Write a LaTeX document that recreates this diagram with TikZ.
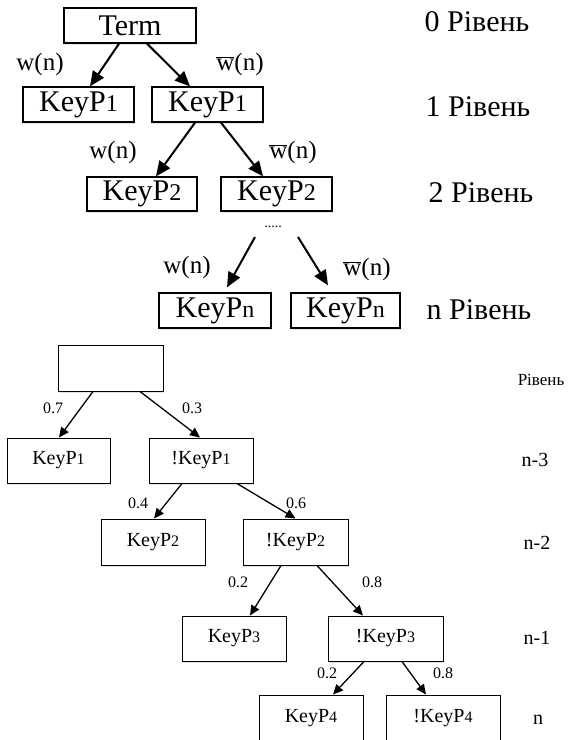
\documentclass[tikz,border=0pt]{standalone}
\usepackage{fontspec}
\setmainfont{LiberationSerif}[Extension=.ttf,UprightFont=*-Regular,BoldFont=*-Bold]
\usetikzlibrary{arrows.meta,shadows}

% smaller index digit/letter set on the baseline
\newcommand{\ix}[1]{\scalebox{0.8}{#1}}
\newcommand{\wbar}{$\overline{\mbox{w}}$}

\begin{document}
\begin{tikzpicture}[x=1pt,y=-1pt,
  bigbox/.style={draw,line width=1.3pt,inner sep=0pt,fill=white,
    font=\fontsize{30}{32}\selectfont,minimum height=35pt,
    drop shadow={shadow xshift=1.2pt,shadow yshift=-1.5pt,fill=blue!25!gray!35,opacity=0.5}},
  smallbox/.style={draw,line width=1pt,inner sep=0pt,fill=white,
    font=\fontsize{20}{22}\selectfont,minimum height=45pt,
    drop shadow={shadow xshift=1.2pt,shadow yshift=-1.5pt,fill=blue!25!gray!35,opacity=0.5}},
  bigarrow/.style={line width=2pt,-{Triangle[length=15pt,width=13pt]}},
  smallarrow/.style={line width=1.3pt,-{Triangle[length=10pt,width=9pt]}},
  biglab/.style={font=\fontsize{25}{27}\selectfont,inner sep=0pt},
  smalllab/.style={font=\fontsize{16}{18}\selectfont,inner sep=0pt},
  toplevel/.style={font=\fontsize{30}{32}\selectfont,inner sep=0pt},
  lowlevel/.style={font=\fontsize{20}{22}\selectfont,inner sep=0pt},
]
\useasboundingbox[fill=white] (0,0) rectangle (569,740);

% ---------- upper tree ----------
\node[bigbox,minimum width=132pt] (term) at (130,25.5) {Term};
\node[bigbox,minimum width=111pt] (a1) at (78.5,104.5) {KeyP\ix{1}};
\node[bigbox,minimum width=111pt] (b1) at (207.5,104.5) {KeyP\ix{1}};
\node[bigbox,minimum width=110pt,minimum height=34pt] (a2) at (142,194) {KeyP\ix{2}};
\node[bigbox,minimum width=111pt,minimum height=34pt] (b2) at (276.5,194) {KeyP\ix{2}};
\node[bigbox,minimum width=112pt] (an) at (215,310.5) {KeyP\ix{n}};
\node[bigbox,minimum width=109pt] (bn) at (345.5,310.5) {KeyP\ix{n}};

\node[font=\fontsize{14}{14}\selectfont,inner sep=0pt] (dots) at (273,227) {.....};
\coordinate (dl) at (255,237);
\coordinate (dr) at (298,237);

\draw[bigarrow] ([xshift=-11pt]term.south) -- ([xshift=11.5pt]a1.north);
\draw[bigarrow] ([xshift=17pt]term.south) -- ([xshift=-17.5pt]b1.north);
\draw[bigarrow] ([xshift=-12.5pt]b1.south) -- ([xshift=14pt]a2.north);
\draw[bigarrow] ([xshift=13.5pt]b1.south) -- ([xshift=-13.5pt]b2.north);
\draw[bigarrow] (dl) -- ([xshift=12pt,yshift=5pt]an.north);
\draw[bigarrow] (dr) -- ([xshift=-17.5pt,yshift=7pt]bn.north);

\node[biglab] (l1) at (40,64) {w(n)};
\node[biglab] (r1) at (240,64) {\wbar(n)};
\node[biglab] (l2) at (113,152) {w(n)};
\node[biglab] (r2) at (293,152) {\wbar(n)};
\node[biglab] (l3) at (187,267) {w(n)};
\node[biglab] (r3) at (367,269) {\wbar(n)};

\node[toplevel] (lev0) at (477,22) {0 Рівень};
\node[toplevel] (lev1) at (478,107) {1 Рівень};
\node[toplevel] (lev2) at (481,193) {2 Рівень};
\node[toplevel] (levn) at (479,310) {n Рівень};

% ---------- lower tree ----------
\node[smallbox,minimum width=105pt,minimum height=46pt] (root) at (110.5,368) {};
\node[smallbox,minimum width=103pt] (k1) at (58.5,460.5) {KeyP\ix{1}};
\node[smallbox,minimum width=104pt] (nk1) at (201,460.5) {!KeyP\ix{1}};
\node[smallbox,minimum width=104pt,minimum height=46pt] (k2) at (153,542) {KeyP\ix{2}};
\node[smallbox,minimum width=105pt,minimum height=46pt] (nk2) at (295.5,542) {!KeyP\ix{2}};
\node[smallbox,minimum width=104pt] (k3) at (234,638.5) {KeyP\ix{3}};
\node[smallbox,minimum width=115pt] (nk3) at (385.5,638.5) {!KeyP\ix{3}};
\node[smallbox,minimum width=104pt,minimum height=46pt] (k4) at (311,718) {KeyP\ix{4}};
\node[smallbox,minimum width=114pt,minimum height=46pt] (nk4) at (443,718) {!KeyP\ix{4}};

\draw[smallarrow] ([xshift=-17.5pt]root.south) -- ([xshift=0.5pt]k1.north);
\draw[smallarrow] ([xshift=29.5pt]root.south) -- ([xshift=-1pt]nk1.north);
\draw[smallarrow] ([xshift=-19pt]nk1.south) -- ([xshift=1pt]k2.north);
\draw[smallarrow] ([xshift=36pt]nk1.south) -- ([xshift=0pt]nk2.north);
\draw[smallarrow] ([xshift=-14.5pt]nk2.south) -- ([xshift=16pt]k3.north);
\draw[smallarrow] ([xshift=21.5pt]nk2.south) -- ([xshift=-22.5pt]nk3.north);
\draw[smallarrow] ([xshift=-21.5pt]nk3.south) -- ([xshift=22pt]k4.north);
\draw[smallarrow] ([xshift=16.5pt]nk3.south) -- ([xshift=-17pt]nk4.north);

\node[smalllab] (p07) at (53,408) {0.7};
\node[smalllab] (p03) at (192,408) {0.3};
\node[smalllab] (p04) at (138,503) {0.4};
\node[smalllab] (p06) at (296,503) {0.6};
\node[smalllab] (p02a) at (238,582) {0.2};
\node[smalllab] (p08a) at (372,582) {0.8};
\node[smalllab] (p02b) at (327,673) {0.2};
\node[smalllab] (p08b) at (443,673) {0.8};

\node[lowlevel,font=\fontsize{17}{19}\selectfont] (levt) at (541,380) {Рівень};
\node[lowlevel] (lev3) at (535,460) {n-3};
\node[lowlevel] (lev2b) at (537,543) {n-2};
\node[lowlevel] (lev1b) at (537,638) {n-1};
\node[lowlevel] (lev0b) at (538,720) {n};
\end{tikzpicture}
\end{document}
